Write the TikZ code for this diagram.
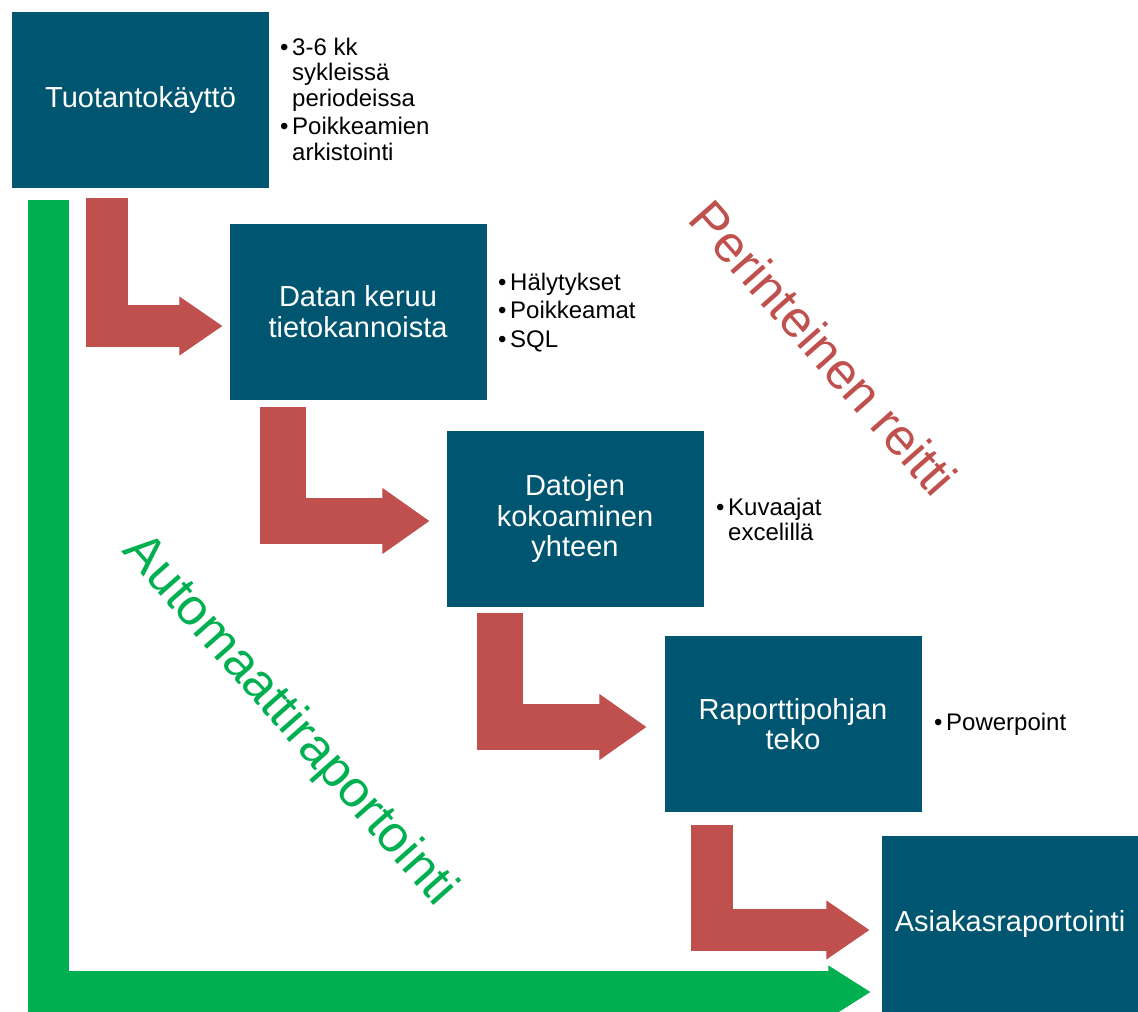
\documentclass[tikz,border=0pt]{standalone}
\usepackage{fontspec}
\setmainfont{Liberation Sans}
\usetikzlibrary{arrows.meta}
\definecolor{boxblue}{RGB}{0,85,112}
\definecolor{pathred}{RGB}{192,80,77}
\definecolor{pathgreen}{RGB}{0,176,80}
\newcommand{\bul}{\makebox[12pt][l]{•}}
\newcommand{\ind}{\hspace*{12pt}}
\begin{document}
\begin{tikzpicture}[x=1pt, y=-1pt,
    stage/.style={fill=boxblue, text=white, minimum width=257pt, minimum height=176pt, inner sep=0pt, align=center, font=\fontsize{29}{30.5}\selectfont},
    notes/.style={anchor=north west, inner sep=0pt, align=left, font=\fontsize{24}{25.5}\selectfont},
    redpath/.style={draw=pathred, line width=42pt, -{Triangle[length=43pt, width=59pt, line width=1pt]}},
    redpath wide/.style={draw=pathred, line width=46pt, -{Triangle[length=47pt, width=66pt, line width=1pt]}},
    greenpath/.style={draw=pathgreen, line width=41.5pt, -{Triangle[length=42pt, width=53pt, line width=1pt]}},
    slanted/.style={rotate=-48.5, inner sep=0pt, font=\fontsize{51.5}{60}\selectfont}]
    \useasboundingbox (0,0) rectangle (1138,1012);
    \node[stage] (kaytto) at (140.5,100) {Tuotantokäyttö};
    \node[stage] (keruu) at (358,311.5) {Datan keruu\\tietokannoista};
    \node[stage] (kokoaminen) at (575,518.5) {Datojen\\kokoaminen\\yhteen};
    \node[stage] (pohja) at (793,724) {Raporttipohjan\\teko};
    \node[stage] (asiakas) at (1010,924) {Asiakasraportointi};
    \node[notes] (kaytto notes) at (280,37.8) {\bul 3-6 kk\\\ind sykleissä\\\ind periodeissa\\[3pt]\bul Poikkeamien\\\ind arkistointi};
    \node[notes] (keruu notes) at (498,272.5) {\bul Hälytykset\\[3pt]\bul Poikkeamat\\[3pt]\bul SQL};
    \node[notes] (kokoaminen notes) at (716,497.8) {\bul Kuvaajat\\\ind excelillä};
    \node[notes] (pohja notes) at (934,713) {\bul Powerpoint};
    \draw[redpath] ([xshift=-33.5pt,yshift=-10pt]kaytto.south) |- ([xshift=-7pt,yshift=-14.5pt]keruu.west);
    \draw[redpath wide] ([xshift=-75pt,yshift=-7pt]keruu.south) |- ([xshift=-17pt,yshift=-2.5pt]kokoaminen.west);
    \draw[redpath wide] ([xshift=-75pt,yshift=-6pt]kokoaminen.south) |- ([xshift=-18pt,yshift=-3pt]pohja.west);
    \draw[redpath] ([xshift=-81.5pt,yshift=-13pt]pohja.south) |- ([xshift=-12pt,yshift=-6pt]asiakas.west);
    \draw[greenpath] ([xshift=-92pt,yshift=-12pt]kaytto.south) |- ([xshift=-11pt,yshift=-68pt]asiakas.west);
    \node[slanted, text=pathred] (perinteinen) at (824,348) {Perinteinen reitti};
    \node[slanted, text=pathgreen] (automaatti) at (289,721) {Automaattiraportointi};
\end{tikzpicture}
\end{document}
